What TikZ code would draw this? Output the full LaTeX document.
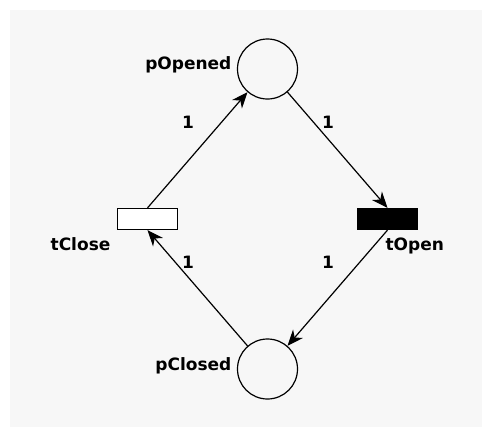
\documentclass[tikz,border=0pt]{standalone}
\usepackage{fontspec}
\setmainfont{DejaVu Sans}
\usetikzlibrary{arrows.meta}
\definecolor{canvas}{HTML}{F7F7F7}

\begin{document}
\begin{tikzpicture}
  [x=1pt,y=-1pt,line width=1.2pt,
   every node/.style={font=\fontsize{17}{18}\selectfont\bfseries,inner sep=0pt},
   place/.style={circle,draw,minimum size=60pt},
   transition/.style={rectangle,draw,minimum width=60pt,minimum height=21pt},
   arc/.style={-{Stealth[length=16pt,width=13pt,inset=5pt]}}]
  \useasboundingbox (0,0) rectangle (491,437);
  \fill[canvas] (10,10) rectangle (482,427);
  % places and transitions
  \node[place] (pOpened) at (267.5,69) {};
  \node[place] (pClosed) at (267.5,369) {};
  \node[transition,fill=white] (tClose) at (147.5,219) {};
  \node[transition,fill=black] (tOpen) at (387.5,219) {};
  % names
  \node[anchor=base east] (nOpened) at (232,69) {pOpened};
  \node[anchor=base east] (nClosed) at (232,370) {pClosed};
  \node[anchor=base east] (nClose) at (111,250) {tClose};
  \node[anchor=base west] (nOpen) at (385,250) {tOpen};
  % arcs
  \draw[arc] (tClose.north) -- (pOpened);
  \draw[arc] (pOpened) -- (tOpen.north);
  \draw[arc] (tOpen.south) -- (pClosed);
  \draw[arc] (pClosed) -- (tClose.south);
  % weights
  \foreach \name/\x/\y in {w1/188/122,w2/328/122,w3/328/262,w4/188/262}
    \node (\name) at (\x,\y) {1};
\end{tikzpicture}
\end{document}
